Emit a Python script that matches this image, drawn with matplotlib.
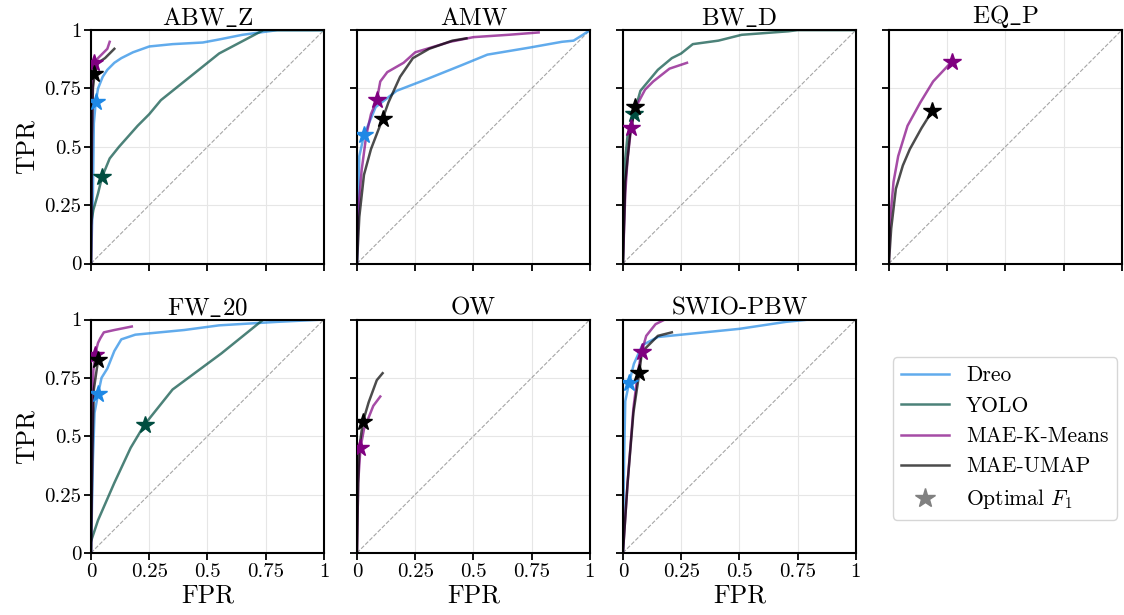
import matplotlib.pyplot as plt
from matplotlib.lines import Line2D

plt.rcParams['font.family'] = ['cmr10', 'DejaVu Serif']
plt.rcParams['mathtext.fontset'] = 'cm'
plt.rcParams['axes.formatter.use_mathtext'] = True

methods = ['Dreo', 'YOLO', 'MAE-K-Means', 'MAE-UMAP']
colors = ['#1E88E5', '#004D40', '#800080', '#000000']
titles = [r'ABW$\_$Z', 'AMW', r'BW$\_$D', r'EQ$\_$P', r'FW$\_$20', 'OW', 'SWIO-PBW']

# (fpr, tpr) per method, None when the method is missing
abwz_dreo = ([0, 0.008, 0.012, 0.02, 0.03, 0.05, 0.07, 0.1, 0.13, 0.18, 0.25, 0.35, 0.48, 0.55, 0.65, 0.8, 1],
             [0, 0.3, 0.6, 0.69, 0.75, 0.8, 0.83, 0.86, 0.88, 0.905, 0.93, 0.94, 0.947, 0.96, 0.98, 1.0, 1.0])
abwz_yolo = ([0, 0.01, 0.03, 0.047, 0.08, 0.12, 0.2, 0.25, 0.3, 0.4, 0.55, 0.74, 1],
             [0.17, 0.23, 0.3, 0.37, 0.45, 0.5, 0.59, 0.64, 0.7, 0.78, 0.9, 1.0, 1.0])
abwz_kmeans = ([0, 0.004, 0.008, 0.015, 0.03, 0.05, 0.07, 0.08],
               [0, 0.6, 0.8, 0.86, 0.88, 0.9, 0.92, 0.95])
abwz_umap = ([0, 0.004, 0.008, 0.015, 0.03, 0.06, 0.08, 0.1],
             [0, 0.55, 0.75, 0.81, 0.86, 0.88, 0.9, 0.92])

amw_dreo = ([0, 0.01, 0.03, 0.08, 0.17, 0.3, 0.45, 0.56, 0.74, 0.88, 0.93, 0.97, 1],
            [0, 0.46, 0.55, 0.67, 0.74, 0.79, 0.85, 0.895, 0.925, 0.95, 0.955, 0.98, 1.0])
amw_kmeans = ([0, 0.005, 0.02, 0.04, 0.06, 0.085, 0.1, 0.13, 0.2, 0.25, 0.3, 0.4, 0.5, 0.65, 0.78],
              [0, 0.22, 0.4, 0.55, 0.64, 0.70, 0.78, 0.82, 0.86, 0.905, 0.92, 0.95, 0.97, 0.98, 0.99])
amw_umap = ([0, 0.01, 0.03, 0.06, 0.11, 0.135, 0.185, 0.24, 0.31, 0.41, 0.47],
            [0, 0.2, 0.38, 0.49, 0.62, 0.69, 0.8, 0.88, 0.92, 0.955, 0.965])

bwd_yolo = ([0, 0.01, 0.02, 0.047, 0.075, 0.1, 0.15, 0.21, 0.25, 0.3, 0.41, 0.51, 0.71, 0.75, 1],
            [0, 0.45, 0.55, 0.64, 0.74, 0.77, 0.83, 0.88, 0.9, 0.94, 0.955, 0.98, 0.995, 1.0, 1.0])
bwd_kmeans = ([0, 0.01, 0.02, 0.035, 0.05, 0.095, 0.13, 0.2, 0.275],
              [0, 0.3, 0.45, 0.58, 0.66, 0.745, 0.78, 0.835, 0.86])
bwd_umap = ([0, 0.01, 0.03, 0.052],
            [0, 0.35, 0.55, 0.67])

eqp_kmeans = ([0, 0.004, 0.02, 0.04, 0.08, 0.135, 0.19, 0.27],
              [0, 0.17, 0.35, 0.46, 0.59, 0.69, 0.78, 0.865])
eqp_umap = ([0, 0.01, 0.03, 0.06, 0.09, 0.14, 0.187],
            [0, 0.15, 0.32, 0.42, 0.49, 0.58, 0.655])

fw20_dreo = ([0, 0.008, 0.015, 0.03, 0.045, 0.07, 0.1, 0.13, 0.19, 0.4, 0.55, 0.8, 1],
             [0, 0.4, 0.6, 0.68, 0.75, 0.79, 0.865, 0.915, 0.935, 0.955, 0.975, 0.99, 1.0])
fw20_yolo = ([0, 0.03, 0.1, 0.17, 0.23, 0.35, 0.56, 0.74, 1],
             [0.05, 0.14, 0.3, 0.45, 0.55, 0.7, 0.855, 1.0, 1.0])
fw20_kmeans = ([0, 0.005, 0.01, 0.017, 0.03, 0.04, 0.055, 0.1, 0.175],
               [0, 0.5, 0.78, 0.85, 0.9, 0.92, 0.945, 0.955, 0.97])
fw20_umap = ([0, 0.006, 0.012, 0.03],
             [0, 0.45, 0.7, 0.825])

ow_kmeans = ([0, 0.005, 0.015, 0.03, 0.05, 0.07, 0.1],
             [0, 0.3, 0.45, 0.53, 0.58, 0.63, 0.67])
ow_umap = ([0, 0.005, 0.01, 0.025, 0.05, 0.085, 0.11],
           [0, 0.3, 0.45, 0.56, 0.645, 0.74, 0.77])

swio_dreo = ([0, 0.005, 0.01, 0.027, 0.047, 0.083, 0.15, 0.3, 0.5, 0.7, 0.8, 1],
             [0, 0.4, 0.65, 0.73, 0.81, 0.89, 0.925, 0.94, 0.96, 0.99, 1.0, 1.0])
swio_kmeans = ([0, 0.02, 0.045, 0.065, 0.08, 0.1, 0.14, 0.18, 0.27],
               [0, 0.3, 0.62, 0.78, 0.86, 0.93, 0.98, 1.0, 1.0])
swio_umap = ([0, 0.02, 0.045, 0.07, 0.08, 0.1, 0.15, 0.21],
             [0, 0.3, 0.6, 0.77, 0.85, 0.88, 0.93, 0.945])

curves = [
    [abwz_dreo, abwz_yolo, abwz_kmeans, abwz_umap],
    [amw_dreo, None, amw_kmeans, amw_umap],
    [None, bwd_yolo, bwd_kmeans, bwd_umap],
    [None, None, eqp_kmeans, eqp_umap],
    [fw20_dreo, fw20_yolo, fw20_kmeans, fw20_umap],
    [None, None, ow_kmeans, ow_umap],
    [swio_dreo, None, swio_kmeans, swio_umap],
]

# optimal F1 points (fpr, tpr)
stars = [
    [(0.02, 0.69), (0.047, 0.37), (0.012, 0.86), (0.012, 0.81)],
    [(0.03, 0.55), None, (0.085, 0.70), (0.11, 0.62)],
    [None, (0.047, 0.64), (0.035, 0.58), (0.052, 0.67)],
    [None, None, (0.27, 0.865), (0.187, 0.655)],
    [(0.03, 0.68), (0.23, 0.55), (0.017, 0.85), (0.03, 0.825)],
    [None, None, (0.015, 0.45), (0.025, 0.56)],
    [(0.027, 0.73), None, (0.08, 0.86), (0.07, 0.77)],
]

fig, axes = plt.subplots(2, 4, figsize=(11.24, 6.15), dpi=100, sharex=True, sharey=True)
fig.subplots_adjust(left=0.081, right=0.998, top=0.951, bottom=0.101, wspace=0.142, hspace=0.24)
flat = axes.flatten()

ticks = [0, 0.25, 0.5, 0.75, 1]
tick_labels = ['0', '0.25', '0.5', '0.75', '1']

for i, ax in enumerate(flat[:7]):
    ax.plot([0, 1], [0, 1], ls='--', color='gray', lw=0.8, alpha=0.7, zorder=1)
    for j in range(4):
        c = curves[i][j]
        if c is not None:
            ax.plot(c[0], c[1], color=colors[j], alpha=0.7, lw=1.8, zorder=2)
    for j in range(4):
        s = stars[i][j]
        if s is not None:
            ax.plot(s[0], s[1], marker='*', color=colors[j], markersize=13, ls='none', zorder=3)
    ax.set_xlim(0, 1)
    ax.set_ylim(0, 1)
    ax.set_xticks(ticks)
    ax.set_yticks(ticks)
    ax.set_xticklabels(tick_labels)
    ax.set_yticklabels(tick_labels)
    ax.grid(True, color='#e6e6e6', lw=0.8)
    ax.set_axisbelow(True)
    ax.set_title(titles[i], fontsize=18, pad=3)
    for sp in ax.spines.values():
        sp.set_linewidth(1.5)
    ax.tick_params(labelsize=15, width=1.3, length=5, pad=2)

for ax in axes[:, 0]:
    ax.set_ylabel('TPR', fontsize=18.5)
for ax in axes[1, :3]:
    ax.set_xlabel('FPR', fontsize=18.5, labelpad=2)
    ax.xaxis.set_tick_params(labelbottom=True)
axes[0, 3].xaxis.set_tick_params(labelbottom=False)

flat[7].axis('off')
handles = [Line2D([0], [0], color=colors[j], alpha=0.7, lw=1.8) for j in range(4)]
handles.append(Line2D([0], [0], marker='*', color='gray', markersize=15, ls='none'))
labels = methods + [r'Optimal $F_1$']
flat[7].legend(handles, labels, loc='center left', bbox_to_anchor=(-0.03, 0.49), fontsize=15.5,
               frameon=True, edgecolor='#cccccc', handlelength=2.2)

plt.savefig('out.png', dpi=100)
